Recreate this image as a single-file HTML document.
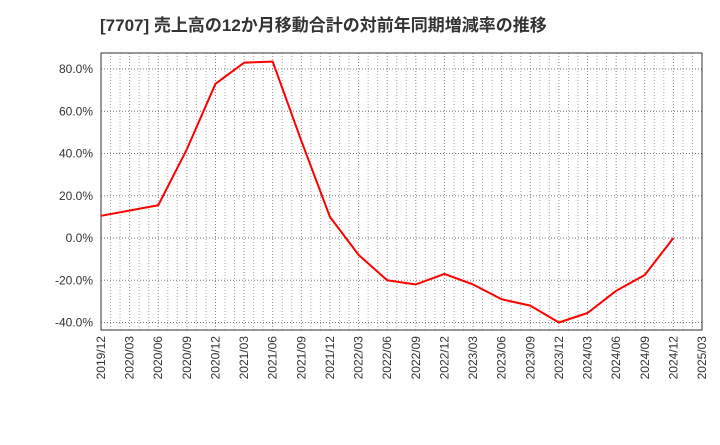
<!DOCTYPE html>
<html><head><meta charset="utf-8"><style>
body{margin:0;background:#fff;font-family:"Liberation Sans","Noto Sans CJK JP",sans-serif}
</style></head><body>
<svg id="c" width="720" height="440" xmlns="http://www.w3.org/2000/svg">
<text x="100" y="31" font-size="17" font-weight="bold" fill="#333" font-family="Liberation Sans, Noto Sans CJK JP, sans-serif">[7707]  売上高の12か月移動合計の対前年同期増減率の推移</text>
<g id="grid"></g><g id="axes"></g><g id="series"></g>
</svg>
<script>
const categories=["2019/12","2020/03","2020/06","2020/09","2020/12","2021/03","2021/06","2021/09","2021/12","2022/03","2022/06","2022/09","2022/12","2023/03","2023/06","2023/09","2023/12","2024/03","2024/06","2024/09","2024/12","2025/03"];
const values=[10.5,13,15.5,42,73,83,83.5,46,10,-8,-20,-22,-17,-22,-29,-32,-40,-35.5,-25,-17.5,0];
const yTicks=[80,60,40,20,0,-20,-40];
const NS="http://www.w3.org/2000/svg";
const L=101,R=702,T=53,B=330;
const x=i=>L+(R-L)*i/(categories.length-1);
const y=v=>238-v*(238-69)/80;
function mk(t,a,p){const e=document.createElementNS(NS,t);for(const k in a)e.setAttribute(k,a[k]);p.appendChild(e);return e;}
const g=document.getElementById('grid'),ax=document.getElementById('axes'),s=document.getElementById('series');
for(let m=1;m<(categories.length-1)*3;m++){const xx=L+(R-L)*m/((categories.length-1)*3);
const l=mk('line',{x1:xx,x2:xx,y1:T,y2:B,stroke:m%3==0?'#888':'#aaa','stroke-dasharray':'1,2','stroke-width':1},g);
}
yTicks.forEach(v=>{const l=mk('line',{x1:L,x2:R,y1:y(v),y2:y(v),stroke:'#777','stroke-dasharray':'1,2'},g);

const t=mk('text',{x:L-8,y:y(v)+4,'text-anchor':'end','font-size':12,fill:'#333'},ax);t.textContent=v.toFixed(1)+'%';
});
const f=mk('rect',{x:L,y:T,width:R-L,height:B-T,fill:'none',stroke:'#333'},ax);

categories.forEach((c,i)=>{const t=mk('text',{transform:`translate(${x(i)+4},${B+6}) rotate(-90)`,'text-anchor':'end','font-size':12,fill:'#333'},ax);t.textContent=c;
});
const p=mk('polyline',{points:values.map((v,i)=>x(i)+','+y(v)).join(' '),fill:'none',stroke:'#f00','stroke-width':2,'stroke-linejoin':'round'},s);

</script>
</body></html>
